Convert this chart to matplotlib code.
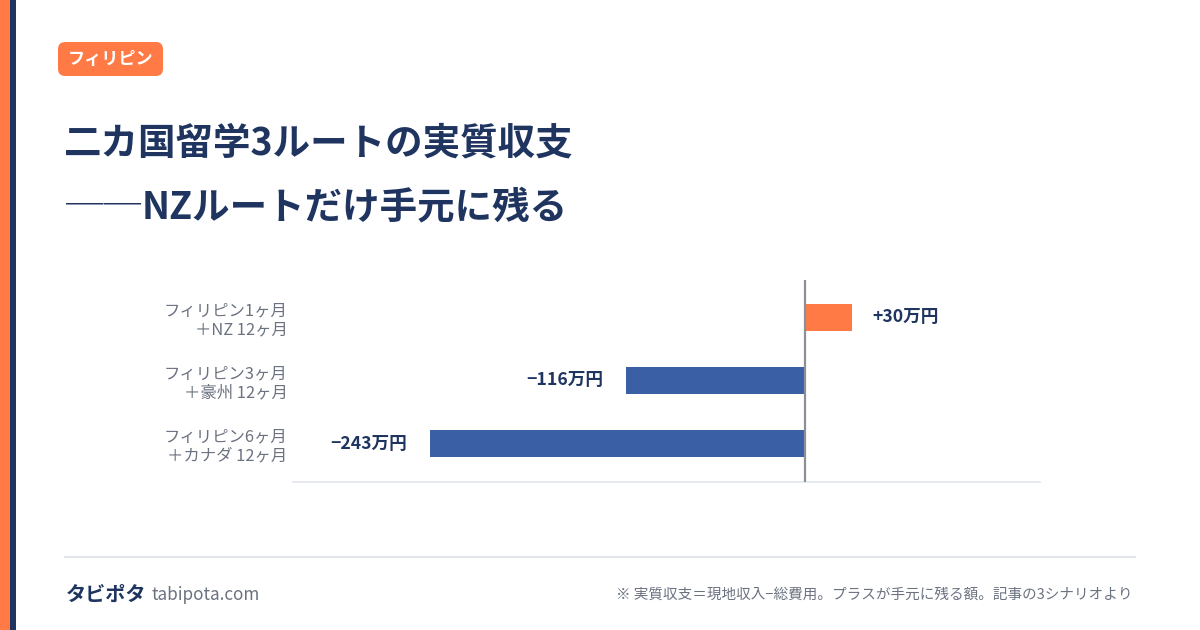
import matplotlib
matplotlib.use("Agg")
import matplotlib.pyplot as plt
from matplotlib.patches import FancyBboxPatch, Rectangle
from matplotlib.lines import Line2D

plt.rcParams['font.family'] = ['Noto Sans CJK JP', 'DejaVu Sans']

# ---- data ----
categories = ["フィリピン1ヶ月\n＋NZ 12ヶ月",
              "フィリピン3ヶ月\n＋豪州 12ヶ月",
              "フィリピン6ヶ月\n＋カナダ 12ヶ月"]
values = [30, -116, -243]
value_labels = ["+30万円", "−116万円", "−243万円"]

tag_text = "フィリピン"
title_line1 = "二カ国留学3ルートの実質収支"
title_dash = "──"
title_line2 = "NZルートだけ手元に残る"
brand = "タビポタ"
site = "tabipota.com"
note = "※ 実質収支＝現地収入−総費用。プラスが手元に残る額。記事の3シナリオより"

ORANGE = "#FF7A45"
NAVY = "#1F3560"
BLUE = "#3A5FA5"
GRAY_TXT = "#6B7280"

W, H = 1200, 630
fig = plt.figure(figsize=(12, 6.3), dpi=100)
fig.patch.set_facecolor("white")

def fx(px): return px / W
def fy(py): return 1 - py / H

# left stripes
fig.patches.append(Rectangle((0, 0), fx(10), 1, transform=fig.transFigure,
                             facecolor=ORANGE, edgecolor="none"))
fig.patches.append(Rectangle((fx(10), 0), fx(6), 1, transform=fig.transFigure,
                             facecolor=NAVY, edgecolor="none"))

# tag
fig.patches.append(FancyBboxPatch((fx(58), fy(76)), fx(105), 34 / H,
                                  boxstyle="round,pad=0,rounding_size=0.006",
                                  transform=fig.transFigure,
                                  facecolor=ORANGE, edgecolor="none",
                                  mutation_aspect=W / H))
fig.text(fx(110.5), fy(59), tag_text, color="white", fontsize=12.3,
         fontweight="bold", ha="center", va="center")

# title
fig.text(fx(64), fy(143), title_line1, color=NAVY, fontsize=27,
         fontweight="bold", ha="left", va="center")
fig.text(fx(66), fy(207), title_dash, color=NAVY, fontsize=27,
         fontweight="normal", ha="left", va="center")
fig.text(fx(142), fy(207), title_line2, color=NAVY, fontsize=27,
         fontweight="bold", ha="left", va="center")

# chart
ax = fig.add_axes([fx(293), fy(482), fx(1040) - fx(293), (482 - 280) / H])
ypos = list(range(len(values)))
colors = [ORANGE if v > 0 else BLUE for v in values]
ax.barh(ypos, values, height=0.43, color=colors, zorder=2)
ax.axvline(0, color="#8A8F99", lw=1.6, zorder=3)
ax.set_xlim(-331.7, 151.8)
ax.set_ylim(2.611, -0.595)
for s in ["top", "right", "left"]:
    ax.spines[s].set_visible(False)
ax.spines["bottom"].set_color("#E2E5EA")
ax.spines["bottom"].set_linewidth(1.2)
ax.set_xticks([])
ax.set_yticks(ypos)
ax.set_yticklabels(categories, fontsize=11.8, color=GRAY_TXT,
                   linespacing=1.12, ha="right", multialignment="right")
ax.tick_params(axis="y", length=0, pad=4)
ax.set_facecolor("white")

for y, v, lab in zip(ypos, values, value_labels):
    if v >= 0:
        ax.annotate(lab, (v, y), xytext=(15, 0), textcoords="offset points",
                    ha="left", va="center", fontsize=12.7, fontweight="bold",
                    color=NAVY)
    else:
        ax.annotate(lab, (v, y), xytext=(-16.5, 0), textcoords="offset points",
                    ha="right", va="center", fontsize=12.7, fontweight="bold",
                    color=NAVY)

# footer
fig.add_artist(Line2D([fx(65), fx(1135)], [fy(557), fy(557)],
                      color="#E2E5EA", lw=1.5, transform=fig.transFigure))
fig.text(fx(66), fy(594), brand, color=NAVY, fontsize=14.5,
         fontweight="bold", ha="left", va="center")
fig.text(fx(151), fy(595), site, color=GRAY_TXT, fontsize=12.3,
         ha="left", va="center")
fig.text(fx(1133), fy(595), note, color=GRAY_TXT, fontsize=10.5,
         ha="right", va="center")

fig.savefig("out.png", dpi=100, facecolor="white")
